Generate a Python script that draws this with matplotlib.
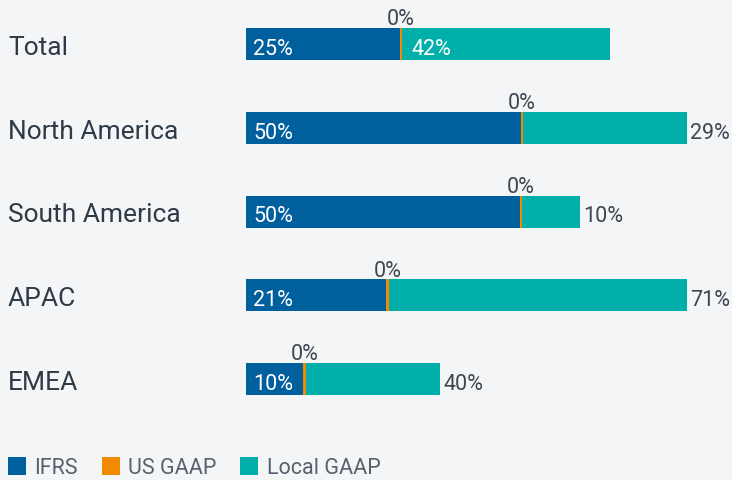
import matplotlib
matplotlib.use('Agg')
import matplotlib.pyplot as plt

plt.rcParams['font.family'] = ['Roboto', 'DejaVu Sans']

regions = ['Total', 'North America', 'South America', 'APAC', 'EMEA']
# bar lengths (as drawn) and the percentage labels shown on them
ifrs_len = [28.0, 50.0, 49.9, 25.6, 10.4]
usgaap_len = [0.4, 0.5, 0.45, 0.55, 0.55]
local_len = [37.8, 29.8, 10.45, 54.1, 24.5]
ifrs_pct = [25, 50, 50, 21, 10]
usgaap_pct = [0, 0, 0, 0, 0]
local_pct = [42, 29, 10, 71, 40]

c_ifrs = '#005f9d'
c_us = '#f08a00'
c_local = '#00afa9'
bg = '#f4f5f7'
dark = '#2e3a46'
grey = '#3d4752'

W, H = 732, 481
fig = plt.figure(figsize=(W / 100, H / 100), dpi=100, facecolor=bg)
x0 = 245.5
ax = fig.add_axes([x0 / W, 0, (W - x0) / W, 1])
ax.set_facecolor(bg)
ax.set_xlim(0, (W - x0) / 5.5)
step = 83.75
ax.set_ylim((H - 45) / step, -45 / step)
ax.axis('off')

y = list(range(len(regions)))
bh = 32 / step
left2 = [a + b for a, b in zip(ifrs_len, usgaap_len)]
b1 = ax.barh(y, ifrs_len, height=bh, color=c_ifrs, label='IFRS')
b2 = ax.barh(y, usgaap_len, left=ifrs_len, height=bh, color=c_us, label='US GAAP')
b3 = ax.barh(y, local_len, left=left2, height=bh, color=c_local, label='Local GAAP')

pt = 0.72  # points per pixel
fs = 15.5
for i in y:
    # category name
    fig.text(8 / W, 1 - (45 + step * i + 10) / H, regions[i], fontsize=19,
             color=dark, ha='left', va='baseline')
    # IFRS label inside
    ax.annotate(f'{ifrs_pct[i]}%', (0, i), xytext=(8 * pt, -10 * pt),
                textcoords='offset points', color='white', fontsize=fs,
                ha='left', va='baseline')
    # US GAAP label above
    ax.annotate(f'{usgaap_pct[i]}%', (ifrs_len[i] + usgaap_len[i] / 2, i - bh / 2),
                xytext=(0, 3.5 * pt), textcoords='offset points', color=grey,
                fontsize=fs, ha='center', va='baseline')
    # Local GAAP label
    if i == 0:
        ax.annotate(f'{local_pct[i]}%', (left2[i], i), xytext=(9.5 * pt, -10 * pt),
                    textcoords='offset points', color='white', fontsize=fs,
                    ha='left', va='baseline')
    else:
        ax.annotate(f'{local_pct[i]}%', (left2[i] + local_len[i], i),
                    xytext=(3 * pt, -10 * pt), textcoords='offset points',
                    color=grey, fontsize=fs, ha='left', va='baseline')

leg = fig.legend(handles=[b1, b2, b3], loc='lower left',
                 bbox_to_anchor=(8 / W, 2 / H), ncol=3, frameon=False,
                 fontsize=15.5, handlelength=0.83, handleheight=0.92,
                 handletextpad=0.4, columnspacing=1.1, borderpad=0,
                 borderaxespad=0)
for t in leg.get_texts():
    t.set_color('#56616d')

fig.savefig('out.png', dpi=100, facecolor=bg)
